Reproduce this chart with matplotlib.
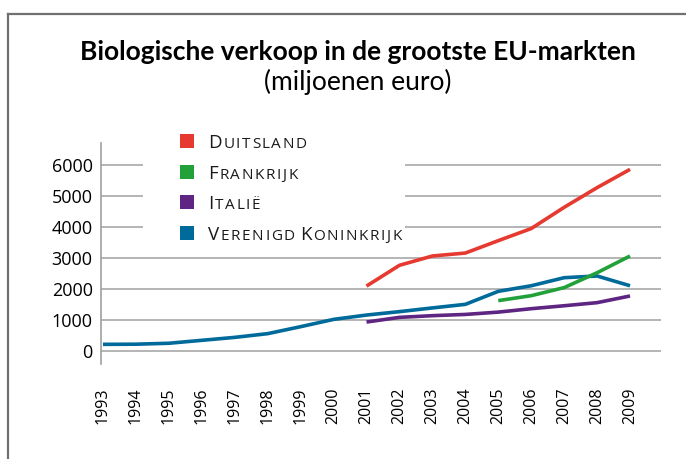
import matplotlib
matplotlib.use("Agg")
import matplotlib.pyplot as plt
from matplotlib.patches import Rectangle
from matplotlib.lines import Line2D
from matplotlib.font_manager import FontProperties, findfont, get_font

# waarden (miljoenen euro)
uk_years = list(range(1993, 2010))
uk = [215, 220, 250, 345, 440, 560, 785, 1020, 1160, 1270, 1390, 1505,
      1925, 2105, 2365, 2420, 2105]
de_years = list(range(2001, 2010))
de = [2095, 2765, 3065, 3160, 3560, 3950, 4635, 5270, 5860]
it_years = list(range(2001, 2010))
it = [935, 1085, 1140, 1180, 1255, 1365, 1460, 1560, 1775]
fr_years = list(range(2005, 2010))
fr = [1625, 1785, 2045, 2525, 3065]

names = ["Duitsland", "Frankrijk", "Italië", "Verenigd Koninkrijk"]
colors = ["#e63a30", "#22a13a", "#5e2583", "#006a9a"]
yticks = [0, 1000, 2000, 3000, 4000, 5000, 6000]
xticks = list(range(1993, 2010))

W, H = 686, 459
FONT = "Open Sans"
plt.rcParams["font.family"] = [FONT, "DejaVu Sans"]


def fx(x):
    return x / W


def fy(y):
    return 1 - y / H


def advance(ch, size):
    # horizontale voortgang van een teken in pixels (dpi 100)
    font = get_font(findfont(FontProperties(family=FONT)))
    font.set_size(size, 100)
    g = font.load_char(ord(ch))
    return g.linearHoriAdvance / 65536


fig = plt.figure(figsize=(W / 100, H / 100), dpi=100)
fig.patch.set_facecolor("white")

# kader
fig.add_artist(Line2D([fx(8), fx(8)], [fy(14), fy(H)], color="#707070", lw=1.6))
fig.add_artist(Line2D([fx(8), fx(W)], [fy(14), fy(14)], color="#707070", lw=1.6))

fig.text(fx(358), fy(60), "Biologische verkoop in de grootste EU-markten",
         ha="center", va="baseline", fontsize=19, fontweight="bold",
         family=["Lato", "DejaVu Sans"])
fig.text(fx(358), fy(90), "(miljoenen euro)", ha="center", va="baseline",
         fontsize=19, family=["Lato", "DejaVu Sans"])

ax = fig.add_axes([fx(101), fy(364), (661 - 101) / W, (364 - 143) / H])
ax.plot(uk_years, uk, color=colors[3], lw=2.6, solid_capstyle="butt")
ax.plot(it_years, it, color=colors[2], lw=2.6, solid_capstyle="butt")
ax.plot(fr_years, fr, color=colors[1], lw=2.6, solid_capstyle="butt")
ax.plot(de_years, de, color=colors[0], lw=2.6, solid_capstyle="butt")

ax.set_xlim(1992.94, 2009.94)
ax.set_ylim(-419, 6710)
ax.set_yticks(yticks)
ax.set_yticklabels([str(v) for v in yticks], fontsize=13)
ax.set_xticks(xticks)
ax.set_xticklabels([str(v) for v in xticks], rotation=90, fontsize=11.5, va="top")
ax.tick_params(axis="both", length=0)
ax.tick_params(axis="y", pad=6)
ax.tick_params(axis="x", pad=17)
ax.grid(axis="y", color="#a8a8a8", lw=1.2)
ax.set_axisbelow(True)
for s in ["top", "right", "bottom"]:
    ax.spines[s].set_visible(False)
ax.spines["left"].set_color("#a0a0a0")
ax.spines["left"].set_linewidth(1.2)

# legenda op witte achtergrond
fig.add_artist(Rectangle((fx(143), fy(246)), (405 - 143) / W, (246 - 125) / H,
                         transform=fig.transFigure, facecolor="white",
                         edgecolor="none", zorder=1))

rows_y = [141, 172, 202, 233]
for name, col, ry in zip(names, colors, rows_y):
    fig.add_artist(Rectangle((fx(180), fy(ry + 7)), 14 / W, 14 / H,
                             transform=fig.transFigure, facecolor=col,
                             edgecolor="none", zorder=2))
    x = 208
    for word in name.split(" "):
        for i, ch in enumerate(word):
            size = 13.5 if i == 0 else 11
            fig.text(fx(x), fy(ry + 7), ch.upper(), fontsize=size,
                     va="baseline", ha="left", color="#1a1a1a", zorder=3)
            x += advance(ch.upper(), size) + 1.6
        x += 4

fig.savefig("out.png", dpi=100)
